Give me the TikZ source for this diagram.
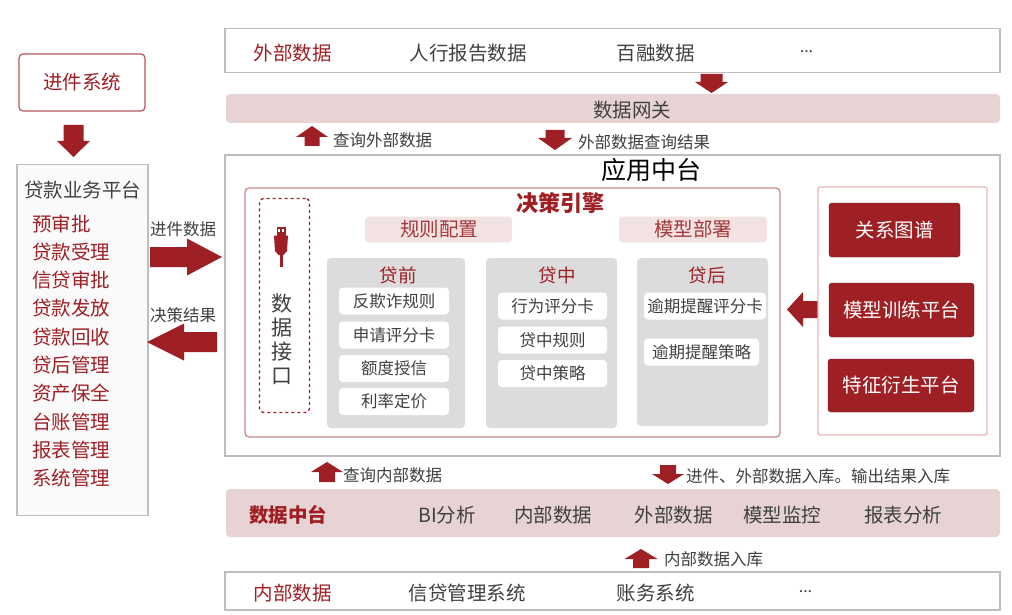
\documentclass[tikz,border=0pt]{standalone}
\usepackage{fontspec}
\setmainfont{Noto Sans CJK SC}
\definecolor{dred}{HTML}{9E1F24}
\definecolor{tred}{HTML}{A3393B}
\definecolor{pinkbar}{HTML}{E8D3D4}
\definecolor{lpink}{HTML}{F2E2E2}
\definecolor{gpanel}{HTML}{DCDCDC}
\definecolor{bgray}{HTML}{BEBEBE}
\definecolor{tgray}{HTML}{404040}
\definecolor{engb}{HTML}{C98A8A}
\definecolor{rbox}{HTML}{E2B4B4}
\tikzset{
  every node/.style={inner sep=0pt, outer sep=0pt},
  gbox/.style={draw=bgray, line width=1.2pt, fill=white},
  pbar/.style={fill=pinkbar, rounded corners=4pt},
  lbar/.style={fill=lpink, rounded corners=4pt},
  panel/.style={fill=gpanel, rounded corners=4pt},
  item/.style={fill=white, rounded corners=4pt, text=tgray, font=\fontsize{16.5}{18}\selectfont},
  redbtn/.style={fill=dred, draw=dred!70!black, rounded corners=3pt, text=white, font=\fontsize{19.5}{21}\selectfont},
  gtxt/.style={text=tgray, font=\fontsize{19.5}{21}\selectfont},
  rtxt/.style={text=dred, font=\fontsize{19.5}{21}\selectfont},
  stxt/.style={text=tgray, font=\fontsize{16.5}{18}\selectfont, anchor=west},
  ltxt/.style={text=dred, font=\fontsize{19.5}{21}\selectfont, anchor=west},
  dots/.style={text=tgray, font=\fontsize{16}{18}\selectfont},
  pics/darr/.style n args={4}{code={\fill[dred] ({-#3/2},0) -- ({#3/2},0) -- ({#3/2},{#2-#4}) -- ({#1/2},{#2-#4}) -- (0,#2) -- ({-#1/2},{#2-#4}) -- ({-#3/2},{#2-#4}) -- cycle;}},
  pics/uarr/.style n args={4}{code={\fill[dred] (0,0) -- ({#1/2},#4) -- ({#3/2},#4) -- ({#3/2},#2) -- ({-#3/2},#2) -- ({-#3/2},#4) -- ({-#1/2},#4) -- cycle;}},
  pics/rarr/.style n args={4}{code={\fill[dred] (0,{-#3/2}) -- ({#2-#4},{-#3/2}) -- ({#2-#4},{-#1/2}) -- (#2,0) -- ({#2-#4},{#1/2}) -- ({#2-#4},{#3/2}) -- (0,{#3/2}) -- cycle;}},
  pics/larr/.style n args={4}{code={\fill[dred] (0,{-#3/2}) -- ({-#2+#4},{-#3/2}) -- ({-#2+#4},{-#1/2}) -- (-#2,0) -- ({-#2+#4},{#1/2}) -- ({-#2+#4},{#3/2}) -- (0,{#3/2}) -- cycle;}},
}
\begin{document}
\begin{tikzpicture}[x=1pt,y=-1pt]
\useasboundingbox (0,0) rectangle (1012,615);
\fill[white] (0,0) rectangle (1012,615);

% ---------- left column ----------
\node[draw=dred!75, line width=1.2pt, fill=white, rounded corners=4pt, minimum width=126pt, minimum height=57pt] (jj) at (82,82.5) {};
\node[rtxt] (jjt) at (jj.center) {进件系统};
\pic at (73.5,125) {darr={33}{32}{20}{16}};
\node[draw=bgray, line width=1.2pt, fill=black!2, minimum width=131pt, minimum height=351pt] (dk) at (82.5,340) {};
\node[gtxt] (dkt) at (82.5,190) {贷款业务平台};
\node[ltxt] (l1) at (32,224) {预审批};
\node[ltxt] (l2) at (32,252) {贷款受理};
\node[ltxt] (l3) at (32,280) {信贷审批};
\node[ltxt] (l4) at (32,308) {贷款发放};
\node[ltxt] (l5) at (32,337) {贷款回收};
\node[ltxt] (l6) at (32,365) {贷后管理};
\node[ltxt] (l7) at (32,393) {资产保全};
\node[ltxt] (l8) at (32,422) {台账管理};
\node[ltxt] (l9) at (32,450) {报表管理};
\node[ltxt] (l10) at (32,478) {系统管理};

\node[stxt] (jjsj) at (150,229) {进件数据};
\pic at (150,257) {rarr={37}{72}{20}{35}};
\node[stxt] (jcjg) at (150,315) {决策结果};
\pic at (217,342) {larr={37}{70}{20}{37}};

% ---------- external data ----------
\node[gbox, minimum width=775pt, minimum height=44pt] (ext) at (612.5,50.5) {};
\node[rtxt] (e1) at (292.5,53) {外部数据};
\node[gtxt] (e2) at (468,53) {人行报告数据};
\node[gtxt] (e3) at (655.5,53) {百融数据};
\node[dots] (e4) at (806.5,52) {...};
\pic at (711.5,74) {darr={33}{19}{22}{11}};
\node[pbar, minimum width=774pt, minimum height=29pt] (gw) at (613,108.5) {};
\node[gtxt] (gwt) at (632,110) {数据网关};
\pic at (312,126) {uarr={32}{20}{15}{11}};
\node[stxt] (cx1) at (333,140) {查询外部数据};
\pic at (555,130) {darr={34}{20}{19}{12}};
\node[stxt] (cx2) at (578,142) {外部数据查询结果};

% ---------- application middle platform ----------
\node[gbox, minimum width=775pt, minimum height=301pt] (app) at (612.5,305.5) {};
\node[font=\fontsize{25}{27}\selectfont, text=black] (appt) at (651,170) {应用中台};
\node[draw=engb, line width=1.3pt, fill=white, rounded corners=4pt, minimum width=535pt, minimum height=249pt] (eng) at (512.5,312.5) {};
\node[text=dred, font=\bfseries\fontsize{22}{24}\selectfont] (engt) at (560,203) {决策引擎};

% data interface
\node[draw=dred, dashed, line width=1.3pt, rounded corners=4pt, minimum width=50pt, minimum height=214pt] (di) at (284.5,305.5) {};
\fill[dred] (276.5,227) rectangle (285.5,235.5);
\fill[white] (278.3,229) rectangle (280.3,231.5);
\fill[white] (281.7,229) rectangle (283.7,231.5);
\fill[dred] (274,235.5) -- (288,235.5) -- (287,251) -- (283.5,255) -- (278.5,255) -- (275,251) -- cycle;
\fill[dred] (279.5,254) rectangle (282.5,267);
\node[gtxt, font=\fontsize{21}{22}\selectfont] (d1) at (282,304) {数};
\node[gtxt, font=\fontsize{21}{22}\selectfont] (d2) at (282,328) {据};
\node[gtxt, font=\fontsize{21}{22}\selectfont] (d3) at (282,352) {接};
\node[gtxt, font=\fontsize{21}{22}\selectfont] (d4) at (282,376) {口};

% config bars
\node[lbar, minimum width=147pt, minimum height=26pt] (rc) at (438.5,229.5) {};
\node[text=tred, font=\fontsize{19.5}{21}\selectfont] (rct) at (439,229) {规则配置};
\node[lbar, minimum width=148pt, minimum height=26pt] (md) at (693,229.5) {};
\node[text=tred, font=\fontsize{19.5}{21}\selectfont] (mdt) at (693,229) {模型部署};

% panels
\node[panel, minimum width=138pt, minimum height=170pt] (pre) at (396,343) {};
\node[rtxt, font=\fontsize{18.5}{20}\selectfont] (pret) at (398,275) {贷前};
\node[item, minimum width=110pt, minimum height=27pt] (p1) at (394,301) {反欺诈规则};
\node[item, minimum width=110pt, minimum height=27pt] (p2) at (394,335) {申请评分卡};
\node[item, minimum width=110pt, minimum height=27pt] (p3) at (394,368.5) {额度授信\hspace{14pt}};
\node[item, minimum width=110pt, minimum height=27pt] (p4) at (394,401.5) {利率定价\hspace{14pt}};

\node[panel, minimum width=131pt, minimum height=170pt] (mid) at (551.5,343) {};
\node[rtxt, font=\fontsize{18.5}{20}\selectfont] (midt) at (557,275) {贷中};
\node[item, minimum width=109pt, minimum height=27pt] (m1) at (552.5,306) {行为评分卡};
\node[item, minimum width=109pt, minimum height=27pt] (m2) at (552.5,340) {贷中规则\hspace{14pt}};
\node[item, minimum width=109pt, minimum height=27pt] (m3) at (552.5,373.5) {贷中策略\hspace{14pt}};

\node[panel, minimum width=131pt, minimum height=168pt] (post) at (702.5,342) {};
\node[rtxt, font=\fontsize{18.5}{20}\selectfont] (postt) at (707,275) {贷后};
\node[item, minimum width=122pt, minimum height=27pt] (q1) at (705,306) {逾期提醒评分卡};
\node[item, minimum width=115pt, minimum height=27pt] (q2) at (701.5,352) {逾期提醒策略};

% right platforms
\pic at (819,309.5) {larr={35}{32}{17}{16}};
\node[draw=rbox, line width=1.2pt, fill=white, rounded corners=2pt, minimum width=169pt, minimum height=248pt] (rb) at (902.5,311) {};
\node[redbtn, minimum width=131pt, minimum height=54pt] (r1) at (894.5,230) {关系图谱};
\node[redbtn, minimum width=145pt, minimum height=54pt] (r2) at (901.5,310) {模型训练平台};
\node[redbtn, minimum width=146pt, minimum height=53pt] (r3) at (901,385.5) {特征衍生平台};

% ---------- data middle platform ----------
\pic at (327,462) {uarr={32}{20}{16}{10}};
\node[stxt] (cn) at (343,475) {查询内部数据};
\pic at (668,465) {darr={32}{19}{16}{10}};
\node[stxt] (rk) at (686,476) {进件、外部数据入库。输出结果入库};
\node[pbar, minimum width=774pt, minimum height=48pt] (dm) at (613,513) {};
\node[text=dred, font=\bfseries\fontsize{19.5}{21}\selectfont] (dmt) at (288,515) {数据中台};
\node[gtxt] (b1) at (447,515) {BI分析};
\node[gtxt] (b2) at (553,515) {内部数据};
\node[gtxt] (b3) at (673.5,515) {外部数据};
\node[gtxt] (b4) at (782,515) {模型监控};
\node[gtxt] (b5) at (903,515) {报表分析};
\pic at (641,549) {uarr={33}{19}{16}{10}};
\node[stxt] (nr) at (664,559) {内部数据入库};

% ---------- internal data ----------
\node[gbox, minimum width=775pt, minimum height=38pt] (intd) at (612.5,591) {};
\node[rtxt] (i1) at (292.5,593) {内部数据};
\node[gtxt] (i2) at (467,593) {信贷管理系统};
\node[gtxt] (i3) at (655.5,593) {账务系统};
\node[dots] (i4) at (805.5,592) {...};
\end{tikzpicture}
\end{document}
